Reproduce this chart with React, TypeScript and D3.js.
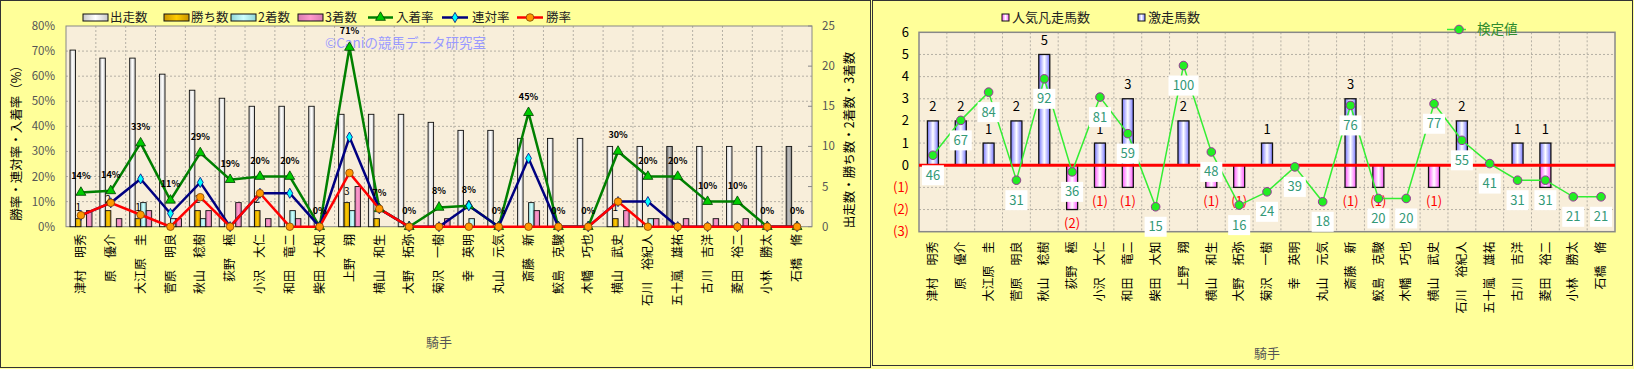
import { useEffect } from 'react';
import * as d3 from 'd3';

// 騎手
const jockeys = [
  '津村　明秀', '原　優介', '大江原　圭', '菅原　明良', '秋山　稔樹', '荻野　極', '小沢　大仁',
  '和田　竜二', '柴田　大知', '上野　翔', '横山　和生', '大野　拓弥', '菊沢　一樹', '幸　英明',
  '丸山　元気', '斎藤　新', '鮫島　克駿', '木幡　巧也', '横山　武史', '石川　裕紀人',
  '五十嵐　雄祐', '古川　吉洋', '菱田　裕二', '小林　勝太', '石橋　脩',
];

// left chart: counts
const runs = [22, 21, 21, 19, 17, 16, 15, 15, 15, 14, 14, 14, 13, 12, 12, 11, 11, 11, 10, 10, 10, 10, 10, 10, 10];
const wins = [1, 2, 1, 0, 2, 0, 2, 0, 0, 3, 1, 0, 0, 0, 0, 0, 0, 0, 1, 0, 0, 0, 0, 0, 0];
const seconds = [0, 0, 3, 1, 1, 0, 0, 2, 0, 2, 0, 0, 0, 1, 0, 3, 0, 0, 0, 1, 0, 0, 0, 0, 0];
const thirds = [2, 1, 2, 1, 2, 3, 1, 1, 0, 5, 0, 0, 1, 0, 0, 2, 0, 0, 2, 1, 1, 1, 1, 0, 0];
const grayRuns = ['五十嵐　雄祐', '石橋　脩'];

// left chart: rates (%)
const winRate = [4.55, 9.52, 4.76, 0, 11.76, 0, 13.33, 0, 0, 21.43, 7.14, 0, 0, 0, 0, 0, 0, 0, 10, 0, 0, 0, 0, 0, 0];
const rentaiRate = [4.55, 9.52, 19.05, 5.26, 17.65, 0, 13.33, 13.33, 0, 35.71, 7.14, 0, 0, 8.33, 0, 27.27, 0, 0, 10, 10, 0, 0, 0, 0, 0];
const nyuchakuRate = [13.64, 14.29, 33.33, 10.53, 29.41, 18.75, 20, 20, 0, 71.43, 7.14, 0, 7.69, 8.33, 0, 45.45, 0, 0, 30, 20, 20, 10, 10, 0, 0];

const pctTicks = [0, 10, 20, 30, 40, 50, 60, 70, 80];
const cntTicks = [0, 5, 10, 15, 20, 25];

// right chart
const gekisou = [2, 2, 1, 2, 5, 0, 1, 3, 0, 2, 0, 0, 1, 0, 0, 3, 0, 0, 0, 2, 0, 1, 1, 0, 0];
const bonsou = [0, 0, 0, 0, 0, 2, 1, 1, 0, 0, 1, 1, 0, 0, 0, 1, 1, 0, 1, 0, 0, 0, 1, 0, 0];
const kentei = [46, 67, 84, 31, 92, 36, 81, 59, 15, 100, 48, 16, 24, 39, 18, 76, 20, 20, 77, 55, 41, 31, 31, 21, 21];
const rTicks = [-3, -2, -1, 0, 1, 2, 3, 4, 5, 6];

const FONT = '"Noto Sans CJK JP", "Noto Sans", sans-serif';

function Grad({ id, edge, mid }: { id: string; edge: string; mid: string }) {
  return (
    <linearGradient id={id} x1="0" x2="1" y1="0" y2="0">
      <stop offset="0" stopColor={edge} />
      <stop offset="0.5" stopColor={mid} />
      <stop offset="1" stopColor={edge} />
    </linearGradient>
  );
}

function LeftChart() {
  const L = { left: 66, right: 812, top: 26, bottom: 226.7 };
  const x = d3.scaleBand<string>().domain(jockeys).range([L.left, L.right]);
  const bw = x.bandwidth();
  const sub = d3.scaleBand<string>().domain(['runs', 'win', 'second', 'third']).range([4, 26]);
  const sw = sub.bandwidth();
  const yPct = d3.scaleLinear().domain([0, 80]).range([L.bottom, L.top]);
  const yCnt = d3.scaleLinear().domain([0, 25]).range([L.bottom, L.top]);
  const cx = (i: number) => (x(jockeys[i]) as number) + bw / 2;
  const line = d3.line<number>().x((d, i) => cx(i)).y(d => yPct(d));
  const tri = d3.symbol(d3.symbolTriangle, 42)() as string;
  const dia = d3.symbol(d3.symbolDiamond, 30)() as string;

  const series: { key: string; vals: number[]; fill: string }[] = [
    { key: 'runs', vals: runs, fill: 'url(#gRuns)' },
    { key: 'win', vals: wins, fill: 'url(#gWin)' },
    { key: 'second', vals: seconds, fill: 'url(#gSecond)' },
    { key: 'third', vals: thirds, fill: 'url(#gThird)' },
  ];

  return (
    <g>
      <rect x={0.5} y={0.5} width={870} height={367} fill="#FFFF99" stroke="#333" />
      <rect x={L.left} y={L.top} width={L.right - L.left} height={L.bottom - L.top} fill="#F8EEDA" />
      {pctTicks.slice(1, -1).map(t => (
        <line key={t} x1={L.left} x2={L.right} y1={yPct(t)} y2={yPct(t)} stroke="#b5b0a5" strokeDasharray="2,2" />
      ))}
      {jockeys.slice(1).map(j => (
        <line key={j} x1={x(j)} x2={x(j)} y1={L.top} y2={L.bottom} stroke="#b5b0a5" strokeDasharray="2,2" />
      ))}
      <rect x={L.left} y={L.top} width={L.right - L.left} height={L.bottom - L.top} fill="none" stroke="#888" />
      {cntTicks.map(t => (
        <line key={t} x1={L.right - 4} x2={L.right} y1={yCnt(t)} y2={yCnt(t)} stroke="#888" />
      ))}

      {/* watermark */}
      <text x={325} y={48} fontSize={13.5} fill="#9a9aff">©Caniの競馬データ研究室</text>

      {/* bars */}
      {series.map(s =>
        s.vals.map((v, i) =>
          v > 0 ? (
            <rect
              key={s.key + i}
              x={(x(jockeys[i]) as number) + (sub(s.key) as number)}
              y={yCnt(v)}
              width={sw}
              height={yCnt(0) - yCnt(v)}
              fill={s.key === 'runs' && grayRuns.includes(jockeys[i]) ? 'url(#gGray)' : s.fill}
              stroke="#111"
              strokeWidth={0.9}
            />
          ) : null,
        ),
      )}
      {wins.map((v, i) =>
        v > 0 ? (
          <text key={'wl' + i} x={(x(jockeys[i]) as number) + (sub('win') as number) + sw / 2} y={yCnt(v) - 8}
            fontSize={10} textAnchor="middle" fill="#000">{v}</text>
        ) : null,
      )}

      {/* lines */}
      <path d={line(nyuchakuRate) as string} fill="none" stroke="#008000" strokeWidth={2.5} />
      <path d={line(rentaiRate) as string} fill="none" stroke="#000080" strokeWidth={2.5} />
      <path d={line(winRate) as string} fill="none" stroke="#ff0000" strokeWidth={2.5} />
      {nyuchakuRate.map((v, i) => (
        <path key={'t' + i} d={tri} transform={`translate(${cx(i)},${yPct(v)})`} fill="#00cc00" stroke="#004000" strokeWidth={0.8} />
      ))}
      {rentaiRate.map((v, i) => (
        <path key={'d' + i} d={dia} transform={`translate(${cx(i)},${yPct(v)})`} fill="#00ffff" stroke="#000080" strokeWidth={0.8} />
      ))}
      {winRate.map((v, i) => (
        <circle key={'c' + i} cx={cx(i)} cy={yPct(v)} r={3.8} fill="#ff9900" stroke="#804000" strokeWidth={0.8} />
      ))}
      {nyuchakuRate.map((v, i) => (
        <text key={'nl' + i} x={cx(i)} y={yPct(v) - 13} fontSize={9} fontWeight="bold" textAnchor="middle" fill="#000">
          {Math.round(v)}%
        </text>
      ))}

      {/* axes labels */}
      {pctTicks.map(t => (
        <text key={t} x={55} y={yPct(t)} dy="0.35em" fontSize={11.5} textAnchor="end" fill="#555">{t}%</text>
      ))}
      {cntTicks.map(t => (
        <text key={t} x={822} y={yCnt(t)} dy="0.35em" fontSize={11.5} textAnchor="start" fill="#555">{t}</text>
      ))}
      <text transform="translate(17,140) rotate(-90)" textAnchor="middle" dy="0.35em" fontSize={12.5} fill="#000">
        勝率・連対率・入着率（%）
      </text>
      <text transform="translate(850,140) rotate(-90)" textAnchor="middle" dy="0.35em" fontSize={12.5} fill="#000">
        出走数・勝ち数・2着数・3着数
      </text>
      {jockeys.map((j, i) => (
        <text key={j} transform={`translate(${cx(i)},234) rotate(-90)`} textAnchor="end" dy="0.35em" fontSize={12} fill="#000">{j}</text>
      ))}
      <text x={(L.left + L.right) / 2} y={342} dy="0.35em" textAnchor="middle" fontSize={13} fill="#555">騎手</text>

      {/* legend */}
      {[
        { x: 83, label: '出走数', fill: 'url(#gRuns)' },
        { x: 164, label: '勝ち数', fill: 'url(#gWin)' },
        { x: 231, label: '2着数', fill: 'url(#gSecond)' },
        { x: 298, label: '3着数', fill: 'url(#gThird)' },
      ].map(d => (
        <g key={d.label}>
          <rect x={d.x} y={14} width={25} height={7} fill={d.fill} stroke="#111" />
          <text x={d.x + 27} y={17.5} dy="0.35em" fontSize={12.5} fill="#222">{d.label}</text>
        </g>
      ))}
      <g>
        <line x1={368} x2={393} y1={17.5} y2={17.5} stroke="#008000" strokeWidth={2.5} />
        <path d={tri} transform="translate(380.5,17.5)" fill="#00cc00" stroke="#004000" strokeWidth={0.8} />
        <text x={396} y={17.5} dy="0.35em" fontSize={12.5} fill="#222">入着率</text>
        <line x1={442} x2={468} y1={17.5} y2={17.5} stroke="#000080" strokeWidth={2.5} />
        <path d={dia} transform="translate(455,17.5)" fill="#00ffff" stroke="#000080" strokeWidth={0.8} />
        <text x={472} y={17.5} dy="0.35em" fontSize={12.5} fill="#222">連対率</text>
        <line x1={517} x2={543} y1={17.5} y2={17.5} stroke="#ff0000" strokeWidth={2.5} />
        <circle cx={530} cy={17.5} r={3.8} fill="#ff9900" stroke="#804000" strokeWidth={0.8} />
        <text x={546} y={17.5} dy="0.35em" fontSize={12.5} fill="#222">勝率</text>
      </g>
    </g>
  );
}

function RightChart() {
  const R = { left: 919, right: 1615, top: 32.3, bottom: 231.7 };
  const x = d3.scaleBand<string>().domain(jockeys).range([R.left, R.right]);
  const bw = x.bandwidth();
  const y = d3.scaleLinear().domain([-3, 6]).range([R.bottom, R.top]);
  const yK = d3.scaleLinear().domain([0, 120]).range([R.bottom, R.top]);
  const cx = (i: number) => (x(jockeys[i]) as number) + bw / 2;
  const barW = 11;
  const line = d3.line<number>().x((d, i) => cx(i)).y(d => yK(d));

  return (
    <g>
      <rect x={872.5} y={0.5} width={760} height={365} fill="#FFFF99" stroke="#333" />
      <rect x={R.left} y={R.top} width={R.right - R.left} height={R.bottom - R.top} fill="#F8EEDA" />
      {rTicks.slice(1, -1).map(t => (
        <line key={t} x1={R.left} x2={R.right} y1={y(t)} y2={y(t)} stroke="#b5b0a5" strokeDasharray="2,2" />
      ))}
      {jockeys.slice(1).map(j => (
        <line key={j} x1={x(j)} x2={x(j)} y1={R.top} y2={R.bottom} stroke="#b5b0a5" strokeDasharray="2,2" />
      ))}
      <rect x={R.left} y={R.top} width={R.right - R.left} height={R.bottom - R.top} fill="none" stroke="#888" strokeWidth={1.5} />

      {/* bars */}
      {bonsou.map((v, i) =>
        v > 0 ? (
          <rect key={'p' + i} x={cx(i) - barW / 2} y={y(0)} width={barW} height={y(-v) - y(0)}
            fill="url(#gPink)" stroke="#111" strokeWidth={1.3} />
        ) : null,
      )}
      {gekisou.map((v, i) =>
        v > 0 ? (
          <rect key={'b' + i} x={cx(i) - barW / 2} y={y(v)} width={barW} height={y(0) - y(v)}
            fill="url(#gBlue)" stroke="#111" strokeWidth={1.3} />
        ) : null,
      )}
      <line x1={R.left} x2={R.right} y1={y(0)} y2={y(0)} stroke="#ff0000" strokeWidth={3} />
      {gekisou.map((v, i) =>
        v > 0 ? (
          <text key={'bl' + i} x={cx(i)} y={y(v) - 14} dy="0.35em" textAnchor="middle" fontSize={13} fill="#000">{v}</text>
        ) : null,
      )}
      {bonsou.map((v, i) =>
        v > 0 ? (
          <text key={'pl' + i} x={cx(i)} y={y(-v) + 14} dy="0.35em" textAnchor="middle" fontSize={13} fill="#ff0000">({v})</text>
        ) : null,
      )}

      {/* 検定値 */}
      <path d={line(kentei) as string} fill="none" stroke="#33ee33" strokeWidth={1.5} />
      {kentei.map((v, i) => (
        <circle key={'k' + i} cx={cx(i)} cy={yK(v)} r={4.3} fill="#22ee22" stroke="#993399" strokeWidth={1} />
      ))}
      {kentei.map((v, i) => {
        const w = String(v).length * 8 + 6;
        return (
          <g key={'kl' + i}>
            <rect x={cx(i) - w / 2} y={yK(v) + 10} width={w} height={20} fill="#ffffff" />
            <text x={cx(i)} y={yK(v) + 20} dy="0.35em" textAnchor="middle" fontSize={13} fill="#339977">{v}</text>
          </g>
        );
      })}

      {/* axes */}
      {rTicks.map(t => (
        <text key={t} x={909} y={y(t)} dy="0.35em" textAnchor="end" fontSize={13} fill={t < 0 ? '#ff0000' : '#000'}>
          {t < 0 ? `(${-t})` : t}
        </text>
      ))}
      {jockeys.map((j, i) => (
        <text key={j} transform={`translate(${cx(i)},241.5) rotate(-90)`} textAnchor="end" dy="0.35em" fontSize={12} fill="#000">{j}</text>
      ))}
      <text x={(R.left + R.right) / 2} y={353} dy="0.35em" textAnchor="middle" fontSize={13} fill="#555">騎手</text>

      {/* legend */}
      <rect x={1002} y={14} width={7} height={7} fill="url(#gPink)" stroke="#111" />
      <text x={1012} y={17.5} dy="0.35em" fontSize={13} fill="#222">人気凡走馬数</text>
      <rect x={1138} y={14} width={7} height={7} fill="url(#gBlue)" stroke="#111" />
      <text x={1148} y={17.5} dy="0.35em" fontSize={13} fill="#222">激走馬数</text>
      <line x1={1447} x2={1466} y1={29.5} y2={29.5} stroke="#33ee33" strokeWidth={1.5} />
      <circle cx={1459} cy={29.5} r={4.3} fill="#22ee22" stroke="#993399" strokeWidth={1} />
      <text x={1477} y={29.5} dy="0.35em" fontSize={13.5} fill="#2e8b2e">検定値</text>
    </g>
  );
}

export default function App() {
  useEffect(() => {
    document.body.style.margin = '0';
  }, []);
  return (
    <svg width={1634} height={369} style={{ display: 'block', fontFamily: FONT }}>
      <defs>
        <Grad id="gRuns" edge="#c8c8c8" mid="#ffffff" />
        <Grad id="gGray" edge="#7a7a7a" mid="#c4c4c4" />
        <Grad id="gWin" edge="#c99400" mid="#ffcc00" />
        <Grad id="gSecond" edge="#8fd6d6" mid="#ccffff" />
        <Grad id="gThird" edge="#d77aaf" mid="#ff99cc" />
        <Grad id="gBlue" edge="#7777ff" mid="#ffffff" />
        <Grad id="gPink" edge="#ff55ff" mid="#ffffff" />
      </defs>
      <rect width={1634} height={369} fill="#FFFF99" />
      <LeftChart />
      <RightChart />
    </svg>
  );
}
